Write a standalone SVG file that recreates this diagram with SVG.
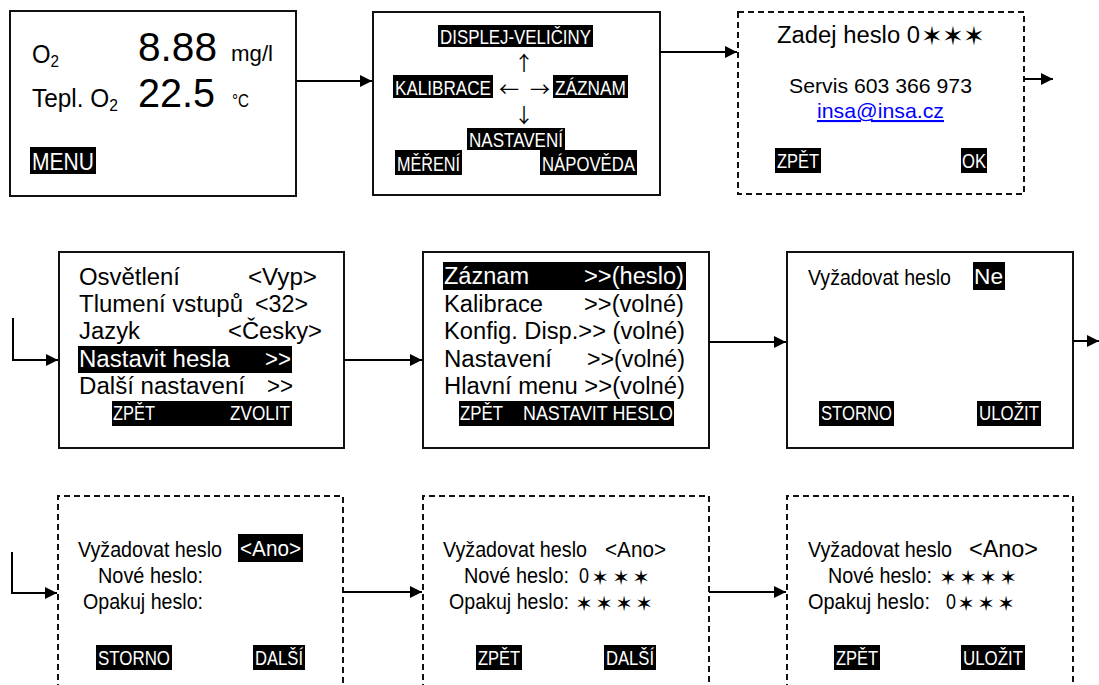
<svg xmlns="http://www.w3.org/2000/svg" width="1099" height="685" viewBox="0 0 1099 685">
<style>
.box{fill:#fff;stroke:#111;stroke-width:2}
.dash{fill:none;stroke:#111;stroke-width:2;stroke-dasharray:6 4}
.t{font-family:"Liberation Sans",Arial,sans-serif;fill:#000;font-size:23px}
.l{font-family:"Liberation Sans",Arial,sans-serif;fill:#fff;font-size:21px}
.w{fill:#fff}
.bar{fill:#000}
.s{font-family:"DejaVu Sans",sans-serif;font-size:21px;text-anchor:middle;fill:#000}
.ar{font-family:"Noto Sans CJK JP","Noto Sans CJK SC",sans-serif;fill:#000;font-size:20px;text-anchor:middle}
.conn path{fill:none;stroke:#000;stroke-width:2;marker-end:url(#ah)}
</style>
<defs>
<marker id="ah" viewBox="0 0 12 12" markerWidth="12" markerHeight="12" refX="12" refY="6" orient="auto" markerUnits="userSpaceOnUse"><path d="M0,0 L12,6 L0,12 z" fill="#000"/></marker>
</defs>
<rect width="1099" height="685" fill="#fff"/>

<g id="n1">
<rect class="box" x="10" y="11" width="286" height="185"/>
<text class="t" x="32" y="63" style="font-size:25px" textLength="27" lengthAdjust="spacingAndGlyphs">O<tspan style="font-size:16px" dy="4">2</tspan></text>
<text class="t" x="138" y="61" style="font-size:41px" textLength="79" lengthAdjust="spacingAndGlyphs">8.88</text>
<text class="t" x="231" y="61" style="font-size:22px" textLength="42" lengthAdjust="spacingAndGlyphs">mg/l</text>
<text class="t" x="32" y="107" style="font-size:25px" textLength="86" lengthAdjust="spacingAndGlyphs">Tepl. O<tspan style="font-size:16px" dy="4">2</tspan></text>
<text class="t" x="138" y="107" style="font-size:41px" textLength="77" lengthAdjust="spacingAndGlyphs">22.5</text>
<text class="t" x="232" y="107" style="font-size:18px" textLength="17" lengthAdjust="spacingAndGlyphs">°C</text>
<rect class="bar" x="30" y="147" width="66" height="27"/>
<text class="l" x="32" y="170" style="font-size:23px" textLength="62" lengthAdjust="spacingAndGlyphs">MENU</text>
</g>

<g id="n2">
<rect class="box" x="373" y="12" width="287" height="183"/>
<rect class="bar" x="438" y="25" width="155" height="22"/>
<text class="l" x="440" y="44" textLength="151" lengthAdjust="spacingAndGlyphs">DISPLEJ-VELIČINY</text>
<text class="ar" x="524" y="71">↑</text>
<rect class="bar" x="393" y="75" width="100" height="23"/>
<text class="l" x="395" y="95" textLength="96" lengthAdjust="spacingAndGlyphs">KALIBRACE</text>
<text class="ar" x="509" y="97">←</text>
<text class="ar" x="540" y="97">→</text>
<rect class="bar" x="553" y="75" width="75" height="23"/>
<text class="l" x="555" y="95" textLength="71" lengthAdjust="spacingAndGlyphs">ZÁZNAM</text>
<text class="ar" x="524" y="123">↓</text>
<rect class="bar" x="467" y="128" width="98" height="22"/>
<text class="l" x="469" y="147" textLength="94" lengthAdjust="spacingAndGlyphs">NASTAVENÍ</text>
<rect class="bar" x="395" y="150" width="67" height="25"/>
<text class="l" x="397" y="171" textLength="63" lengthAdjust="spacingAndGlyphs">MĚŘENÍ</text>
<rect class="bar" x="540" y="150" width="97" height="25"/>
<text class="l" x="542" y="171" textLength="93" lengthAdjust="spacingAndGlyphs">NÁPOVĚDA</text>
</g>

<g id="n3">
<rect class="dash" x="738" y="12" width="286" height="182"/>
<text class="t" x="777" y="43" textLength="143" lengthAdjust="spacingAndGlyphs">Zadej heslo 0</text>
<text class="s" x="932" y="45" style="font-size:26px">✶</text>
<text class="s" x="953" y="45" style="font-size:26px">✶</text>
<text class="s" x="974" y="45" style="font-size:26px">✶</text>
<text class="t" x="789" y="93" style="font-size:21px" textLength="183" lengthAdjust="spacingAndGlyphs">Servis 603 366 973</text>
<text class="t" x="817" y="118" style="font-size:21px;fill:#0000ff" text-decoration="underline" textLength="127" lengthAdjust="spacingAndGlyphs">insa@insa.cz</text>
<rect class="bar" x="775" y="148" width="46" height="25"/>
<text class="l" x="777" y="168" textLength="42" lengthAdjust="spacingAndGlyphs">ZPĚT</text>
<rect class="bar" x="961" y="148" width="26" height="25"/>
<text class="l" x="962" y="168" textLength="24" lengthAdjust="spacingAndGlyphs">OK</text>
</g>

<g id="n4">
<rect class="box" x="59" y="252" width="285" height="196"/>
<text class="t" x="79" y="285" textLength="101" lengthAdjust="spacingAndGlyphs">Osvětlení</text>
<text class="t" x="248" y="285" textLength="69" lengthAdjust="spacingAndGlyphs">&lt;Vyp&gt;</text>
<text class="t" x="79" y="312" textLength="164" lengthAdjust="spacingAndGlyphs">Tlumení vstupů</text>
<text class="t" x="255" y="312" textLength="53" lengthAdjust="spacingAndGlyphs">&lt;32&gt;</text>
<text class="t" x="79" y="339" textLength="61" lengthAdjust="spacingAndGlyphs">Jazyk</text>
<text class="t" x="228" y="339" textLength="94" lengthAdjust="spacingAndGlyphs">&lt;Česky&gt;</text>
<rect class="bar" x="78" y="346" width="214" height="27"/>
<text class="t w" x="79" y="367" textLength="151" lengthAdjust="spacingAndGlyphs">Nastavit hesla</text>
<text class="t w" x="265" y="367" textLength="26" lengthAdjust="spacingAndGlyphs">&gt;&gt;</text>
<text class="t" x="79" y="394" textLength="166" lengthAdjust="spacingAndGlyphs">Další nastavení</text>
<text class="t" x="267" y="394" textLength="26" lengthAdjust="spacingAndGlyphs">&gt;&gt;</text>
<rect class="bar" x="112" y="401" width="180" height="25"/>
<text class="l" x="113" y="420" textLength="42" lengthAdjust="spacingAndGlyphs">ZPĚT</text>
<text class="l" x="230" y="420" textLength="60" lengthAdjust="spacingAndGlyphs">ZVOLIT</text>
</g>

<g id="n5">
<rect class="box" x="423" y="252" width="286" height="196"/>
<rect class="bar" x="443" y="262" width="243" height="28"/>
<text class="t w" x="444" y="284" textLength="85" lengthAdjust="spacingAndGlyphs">Záznam</text>
<text class="t w" x="584" y="284" textLength="100" lengthAdjust="spacingAndGlyphs">&gt;&gt;(heslo)</text>
<text class="t" x="444" y="312" textLength="99" lengthAdjust="spacingAndGlyphs">Kalibrace</text>
<text class="t" x="584" y="312" textLength="100" lengthAdjust="spacingAndGlyphs">&gt;&gt;(volné)</text>
<text class="t" x="444" y="339" textLength="241" lengthAdjust="spacingAndGlyphs">Konfig. Disp.&gt;&gt; (volné)</text>
<text class="t" x="444" y="367" textLength="108" lengthAdjust="spacingAndGlyphs">Nastavení</text>
<text class="t" x="587" y="367" textLength="98" lengthAdjust="spacingAndGlyphs">&gt;&gt;(volné)</text>
<text class="t" x="444" y="394" textLength="241" lengthAdjust="spacingAndGlyphs">Hlavní menu &gt;&gt;(volné)</text>
<rect class="bar" x="459" y="401" width="215" height="25"/>
<text class="l" x="460" y="420" textLength="43" lengthAdjust="spacingAndGlyphs">ZPĚT</text>
<text class="l" x="523" y="420" textLength="150" lengthAdjust="spacingAndGlyphs">NASTAVIT HESLO</text>
</g>

<g id="n6">
<rect class="box" x="787" y="252" width="286" height="196"/>
<text class="t" x="808" y="285" style="font-size:22px" textLength="143" lengthAdjust="spacingAndGlyphs">Vyžadovat heslo</text>
<rect class="bar" x="973" y="262" width="32" height="28"/>
<text class="t w" x="974" y="284" style="font-size:22px" textLength="29" lengthAdjust="spacingAndGlyphs">Ne</text>
<rect class="bar" x="819" y="401" width="75" height="25"/>
<text class="l" x="821" y="420" textLength="71" lengthAdjust="spacingAndGlyphs">STORNO</text>
<rect class="bar" x="977" y="401" width="64" height="25"/>
<text class="l" x="979" y="420" textLength="60" lengthAdjust="spacingAndGlyphs">ULOŽIT</text>
</g>

<g id="n7">
<path class="dash" d="M58,690 V496 H343 V690"/>
<text class="t" x="78" y="557" style="font-size:22px" textLength="144" lengthAdjust="spacingAndGlyphs">Vyžadovat heslo</text>
<rect class="bar" x="238" y="534" width="65" height="28"/>
<text class="l" x="240" y="556" style="font-size:22px" textLength="61" lengthAdjust="spacingAndGlyphs">&lt;Ano&gt;</text>
<text class="t" x="98" y="583" style="font-size:22px" textLength="105" lengthAdjust="spacingAndGlyphs">Nové heslo:</text>
<text class="t" x="83" y="609" style="font-size:22px" textLength="120" lengthAdjust="spacingAndGlyphs">Opakuj heslo:</text>
<rect class="bar" x="96" y="645" width="76" height="25"/>
<text class="l" x="98" y="665" textLength="72" lengthAdjust="spacingAndGlyphs">STORNO</text>
<rect class="bar" x="253" y="645" width="52" height="25"/>
<text class="l" x="255" y="665" textLength="48" lengthAdjust="spacingAndGlyphs">DALŠÍ</text>
</g>

<g id="n8">
<path class="dash" d="M423,690 V496 H709 V690"/>
<text class="t" x="443" y="557" style="font-size:22px" textLength="144" lengthAdjust="spacingAndGlyphs">Vyžadovat heslo</text>
<text class="t" x="605" y="557" style="font-size:22px" textLength="61" lengthAdjust="spacingAndGlyphs">&lt;Ano&gt;</text>
<text class="t" x="464" y="583" style="font-size:22px" textLength="105" lengthAdjust="spacingAndGlyphs">Nové heslo:</text>
<text class="t" x="579" y="583" style="font-size:22px" textLength="10" lengthAdjust="spacingAndGlyphs">0</text>
<text class="s" x="600" y="585">✶</text>
<text class="s" x="621" y="585">✶</text>
<text class="s" x="641" y="585">✶</text>
<text class="t" x="449" y="609" style="font-size:22px" textLength="120" lengthAdjust="spacingAndGlyphs">Opakuj heslo:</text>
<text class="s" x="584" y="611">✶</text>
<text class="s" x="604" y="611">✶</text>
<text class="s" x="624" y="611">✶</text>
<text class="s" x="644" y="611">✶</text>
<rect class="bar" x="476" y="645" width="46" height="25"/>
<text class="l" x="478" y="665" textLength="42" lengthAdjust="spacingAndGlyphs">ZPĚT</text>
<rect class="bar" x="604" y="645" width="52" height="25"/>
<text class="l" x="606" y="665" textLength="48" lengthAdjust="spacingAndGlyphs">DALŠÍ</text>
</g>

<g id="n9">
<path class="dash" d="M787,690 V496 H1073 V690"/>
<text class="t" x="808" y="557" style="font-size:22px" textLength="144" lengthAdjust="spacingAndGlyphs">Vyžadovat heslo</text>
<text class="t" x="969" y="557" style="font-size:24px" textLength="69" lengthAdjust="spacingAndGlyphs">&lt;Ano&gt;</text>
<text class="t" x="828" y="583" style="font-size:22px" textLength="104" lengthAdjust="spacingAndGlyphs">Nové heslo:</text>
<text class="s" x="948" y="585">✶</text>
<text class="s" x="968" y="585">✶</text>
<text class="s" x="988" y="585">✶</text>
<text class="s" x="1008" y="585">✶</text>
<text class="t" x="808" y="609" style="font-size:22px" textLength="122" lengthAdjust="spacingAndGlyphs">Opakuj heslo:</text>
<text class="t" x="946" y="609" style="font-size:22px" textLength="10" lengthAdjust="spacingAndGlyphs">0</text>
<text class="s" x="966" y="611">✶</text>
<text class="s" x="986" y="611">✶</text>
<text class="s" x="1006" y="611">✶</text>
<rect class="bar" x="834" y="645" width="46" height="25"/>
<text class="l" x="836" y="665" textLength="42" lengthAdjust="spacingAndGlyphs">ZPĚT</text>
<rect class="bar" x="961" y="645" width="64" height="25"/>
<text class="l" x="963" y="665" textLength="60" lengthAdjust="spacingAndGlyphs">ULOŽIT</text>
</g>

<g id="connectors" class="conn">
<path d="M296,81 H372"/>
<path d="M660,52 H737"/>
<path d="M1024,79 H1053"/>
<path d="M13,318 V360 H58"/>
<path d="M344,360 H422"/>
<path d="M709,342 H786"/>
<path d="M1073,341 H1099"/>
<path d="M12,552 V593 H57"/>
<path d="M343,592 H422"/>
<path d="M709,592 H786"/>
</g>
</svg>
